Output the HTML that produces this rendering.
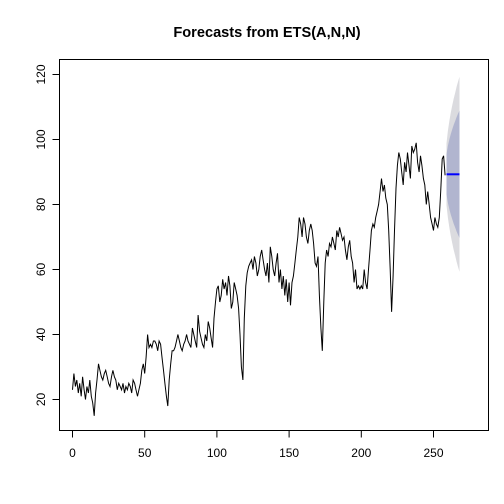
<!DOCTYPE html>
<html><head><meta charset="utf-8"><style>
body{margin:0;background:#fff}
svg{display:block;font-family:"Liberation Sans",Arial,sans-serif}
</style></head><body>
<svg id="chart" width="504" height="504" viewBox="0 0 504 504">
<rect width="504" height="504" fill="#fff"/>
<text x="267" y="37" text-anchor="middle" font-size="14.6" font-weight="bold">Forecasts from ETS(A,N,N)</text>
<g id="bands"></g>
<g id="axes"></g>
<path id="series" fill="none" stroke="#000" stroke-width="1"/>
<path id="fc" fill="none" stroke="#0000ff" stroke-width="2"/>
<rect x="59.5" y="59.5" width="429" height="371" fill="none" stroke="#000"/>
</svg>
<script>
const seriesValues = [23,28,24,26,22,25,21,27,23,20,24,22,26,21,19,15,22,26,31,29,
27,26,28,29,27,25,24,27,29,27,26,23,25,24,23,25,22,24,23,25,
24,22,26,25,23,21,23,25,29,31,28,33,40,36,37,36,38,38,37,35,
38,37,33,29,25,21,18,26,31,35,35,36,38,40,38,36,35,37,38,40,
38,37,36,42,40,38,36,46,41,39,37,36,40,38,44,42,39,36,45,50,
54,55,50,52,57,54,56,52,58,55,48,50,56,54,52,48,40,30,26,45,
55,59,61,62,63,60,64,62,58,60,64,66,63,60,58,62,56,67,64,60,
58,62,65,56,60,54,58,52,57,50,56,49,56,58,62,66,70,76,74,70,
76,74,70,68,72,74,72,68,62,61,64,52,42,35,50,62,66,64,68,67,
70,68,66,72,70,73,71,69,70,66,63,67,69,64,62,56,60,54,55,54,
55,54,60,56,54,60,66,72,74,73,76,78,80,84,88,84,86,82,80,72,60,47,
58,72,85,92,96,94,90,86,93,90,96,92,88,98,96,97,99,93,90,95,92,88,86,80,84,80,76,74,72,76,74,73,76,84,94,95,89];
const fcMean = [89.3,89.3,89.3,89.3,89.3,89.3,89.3,89.3,89.3,89.3];
const lo80 = [83.1,80.5,78.5,76.9,75.4,74.1,72.9,71.7,70.7,69.7];
const hi80 = [95.5,98.1,100.1,101.7,103.2,104.5,105.7,106.9,107.9,108.9];
const lo95 = [79.8,75.9,72.8,70.3,68,66,64.2,62.4,60.8,59.3];
const hi95 = [98.8,102.7,105.8,108.3,110.6,112.6,114.4,116.2,117.8,119.3];
const xTicks = [0,50,100,150,200,250];
const yTicks = [20,40,60,80,100,120];

const NS='http://www.w3.org/2000/svg';
const xs = t => 72.5 + 1.444*t;
const ys = v => 399.5 - 3.25*(v-20);
const n = seriesValues.length;

document.getElementById('series').setAttribute('d', seriesValues.map((v,i)=>(i?'L':'M')+xs(i).toFixed(1)+','+ys(v).toFixed(1)).join(''));
document.getElementById('fc').setAttribute('d', fcMean.map((v,i)=>(i?'L':'M')+xs(n+i).toFixed(1)+','+ys(v).toFixed(1)).join(''));

function band(lo,hi,color,name){
  const p=document.createElementNS(NS,'path');
  let d=hi.map((v,i)=>(i?'L':'M')+xs(n+i).toFixed(1)+','+ys(v).toFixed(1)).join('');
  for(let i=lo.length-1;i>=0;i--) d+='L'+xs(n+i).toFixed(1)+','+ys(lo[i]).toFixed(1);
  p.setAttribute('d',d+'Z');p.setAttribute('fill',color);
  
  
  document.getElementById('bands').appendChild(p);
}
band(lo95,hi95,'#dbdbdf','interval-95');
band(lo80,hi80,'#b1b5cf','interval-80');

const ax=document.getElementById('axes');
function mk(tag,attrs){const e=document.createElementNS(NS,tag);for(const k in attrs)e.setAttribute(k,attrs[k]);ax.appendChild(e);return e;}
mk('line',{x1:xs(0),x2:xs(250),y1:430.5,y2:430.5,stroke:'#000'});
xTicks.forEach(t=>{
  const l=mk('line',{x1:xs(t),x2:xs(t),y1:430.5,y2:437.5,stroke:'#000'});
  
  
  const tx=mk('text',{x:xs(t),y:457,'text-anchor':'middle','font-size':12});
  tx.textContent=t;
  
  
});
mk('line',{x1:59.5,x2:59.5,y1:ys(20),y2:ys(120),stroke:'#000'});
yTicks.forEach(v=>{
  const l=mk('line',{x1:52.5,x2:59.5,y1:ys(v),y2:ys(v),stroke:'#000'});
  
  
  const tx=mk('text',{x:0,y:0,'text-anchor':'middle','font-size':12,transform:`translate(45,${ys(v)}) rotate(-90)`});
  tx.textContent=v;
  
  
});
</script>
</body></html>
